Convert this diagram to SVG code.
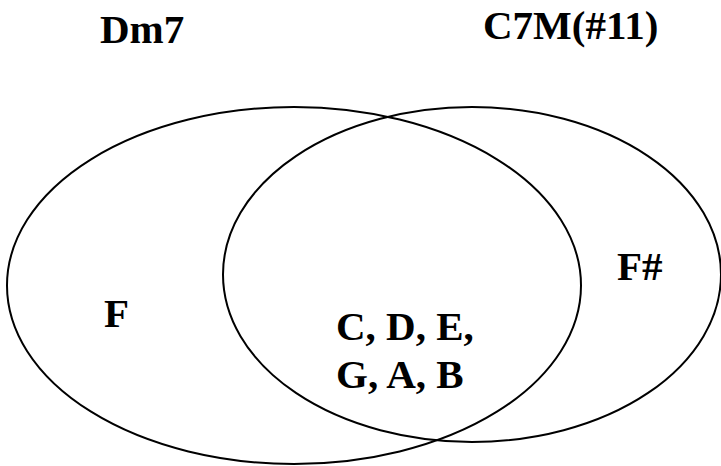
<svg xmlns="http://www.w3.org/2000/svg" width="721" height="466" viewBox="0 0 721 466">
<style>
.set{fill:none;stroke:#000;stroke-width:2}
.t{font-family:"Liberation Serif","Times New Roman",Times,serif;font-weight:bold;font-size:41px;fill:#000}
</style>
<rect width="721" height="466" fill="#fff"/>
<g id="dm7">
<ellipse class="set" cx="294" cy="285.5" rx="287" ry="178.5"/>
<text class="t" x="100" y="43">Dm7</text>
<text class="t" x="104" y="327">F</text>
</g>
<g id="c7m">
<ellipse class="set" cx="472" cy="274.5" rx="249" ry="167.5"/>
<text class="t" x="483" y="39">C7M(#11)</text>
<text class="t" x="617" y="280">F#</text>
</g>
<g id="common">
<text class="t" x="336" y="340">C, D, E,</text>
<text class="t" x="336" y="388">G, A, B</text>
</g>
<g id="connectors"></g>
</svg>
